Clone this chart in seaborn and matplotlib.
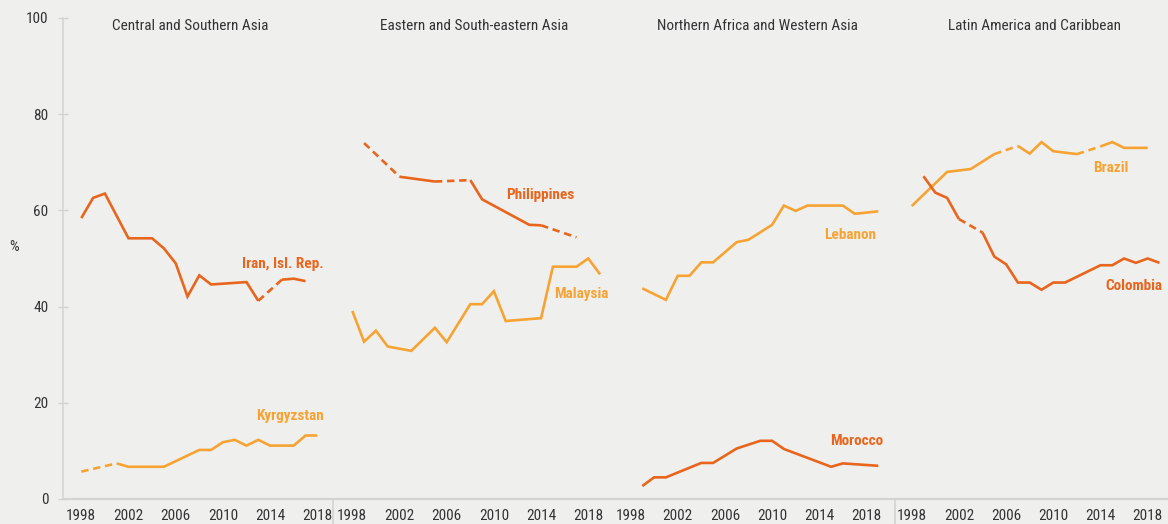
import matplotlib
matplotlib.use("Agg")
import matplotlib.pyplot as plt
from matplotlib import font_manager as fm
from matplotlib.lines import Line2D
import seaborn as sns
import pandas as pd

# ---------------- data ----------------
titles = ["Central and Southern Asia", "Eastern and South-eastern Asia",
          "Northern Africa and Western Asia", "Latin America and Caribbean"]

iran_years = [1998, 1999, 2000, 2002, 2004, 2005, 2006, 2007, 2008, 2009, 2012, 2013, 2015, 2016, 2017]
iran_vals = [58.4, 62.6, 63.5, 54.2, 54.2, 52.1, 49.0, 42.1, 46.5, 44.6, 45.1, 41.2, 45.6, 45.8, 45.3]
iran_dashed = [(2013, 2015)]

kyrg_years = [1998, 2001, 2002, 2005, 2008, 2009, 2010, 2011, 2012, 2013, 2014, 2016, 2017, 2018]
kyrg_vals = [5.7, 7.4, 6.7, 6.7, 10.2, 10.2, 11.8, 12.3, 11.1, 12.3, 11.1, 11.1, 13.2, 13.2]
kyrg_dashed = [(1998, 2001)]

phil_years = [1999, 2002, 2005, 2008, 2009, 2013, 2014, 2017]
phil_vals = [74.0, 67.0, 66.0, 66.3, 62.3, 57.0, 56.9, 54.4]
phil_dashed = [(1999, 2002), (2005, 2008), (2014, 2017)]

malay_years = [1998, 1999, 2000, 2001, 2003, 2005, 2006, 2008, 2009, 2010, 2011, 2014, 2015, 2017, 2018, 2019]
malay_vals = [39.1, 32.7, 35.0, 31.7, 30.8, 35.6, 32.6, 40.5, 40.5, 43.2, 37.0, 37.6, 48.3, 48.3, 50.0, 46.7]
malay_dashed = []

leb_years = [1999, 2001, 2002, 2003, 2004, 2005, 2007, 2008, 2010, 2011, 2012, 2013, 2016, 2017, 2019]
leb_vals = [43.8, 41.4, 46.4, 46.4, 49.2, 49.2, 53.4, 53.9, 57.0, 61.0, 59.9, 61.0, 61.0, 59.3, 59.8]
leb_dashed = []

mor_years = [1999, 2000, 2001, 2004, 2005, 2007, 2009, 2010, 2011, 2015, 2016, 2019]
mor_vals = [2.7, 4.5, 4.5, 7.5, 7.5, 10.5, 12.1, 12.1, 10.4, 6.7, 7.4, 6.9]
mor_dashed = []

bra_years = [1998, 2001, 2003, 2005, 2007, 2008, 2009, 2010, 2012, 2014, 2015, 2016, 2018]
bra_vals = [60.9, 68.0, 68.6, 71.7, 73.4, 71.8, 74.2, 72.3, 71.7, 73.3, 74.2, 73.0, 73.0]
bra_dashed = [(2005, 2007), (2012, 2014)]

col_years = [1999, 2000, 2001, 2002, 2004, 2005, 2006, 2007, 2008, 2009, 2010, 2011, 2014, 2015, 2016, 2017, 2018, 2019]
col_vals = [67.1, 63.7, 62.6, 58.2, 55.4, 50.4, 48.8, 45.0, 45.0, 43.5, 45.0, 45.0, 48.6, 48.6, 50.0, 49.1, 50.0, 49.1]
col_dashed = [(2002, 2004)]

x_ticks = [1998, 2002, 2006, 2010, 2014, 2018]
y_ticks = [0, 20, 40, 60, 80, 100]

# ---------------- style ----------------
DARK = "#e8651d"
LIGHT = "#f6a334"
BG = "#eff0ee"
GRID = "#d3d4d2"
TXT = "#333333"

sns.set_theme(style="white")

# pick the narrowest sans family available
flist = fm.fontManager.ttflist
names = {f.name for f in flist}
FAMILY, STRETCH, SCALE = "DejaVu Sans", "normal", 0.85
if "Liberation Sans Narrow" in names:
    FAMILY, STRETCH, SCALE = "Liberation Sans Narrow", "normal", 1.0
elif "Roboto Condensed" in names:
    FAMILY, STRETCH, SCALE = "Roboto Condensed", "normal", 1.0
elif any(f.name == "DejaVu Sans" and ("Condensed" in f.fname) for f in flist):
    FAMILY, STRETCH, SCALE = "DejaVu Sans", "condensed", 0.95
elif "Roboto" in names:
    FAMILY, STRETCH, SCALE = "Roboto", "condensed", 0.92
plt.rcParams["font.family"] = [FAMILY, "DejaVu Sans"]
plt.rcParams["font.stretch"] = STRETCH

FS = 11 * SCALE

W, H = 1168, 524
fig = plt.figure(figsize=(W / 100, H / 100), dpi=100)
fig.patch.set_facecolor(BG)

TOP, BOT = 18, 499
PXY = 11.8  # pixels per year
# (left px, right px, px of 1998)
panels = [(63, 333, 81.3), (333, 614, 352.3), (614, 895, 630.5), (895, 1168, 911.7)]
title_x = [190, 474, 757, 1034]

series = [
    [(iran_years, iran_vals, iran_dashed, DARK, "Iran, Isl. Rep.", 2015.1, 48.9),
     (kyrg_years, kyrg_vals, kyrg_dashed, LIGHT, "Kyrgyzstan", 2015.7, 17.3)],
    [(phil_years, phil_vals, phil_dashed, DARK, "Philippines", 2013.9, 63.1),
     (malay_years, malay_vals, malay_dashed, LIGHT, "Malaysia", 2017.45, 42.6)],
    [(leb_years, leb_vals, leb_dashed, LIGHT, "Lebanon", 2016.6, 54.9),
     (mor_years, mor_vals, mor_dashed, DARK, "Morocco", 2017.2, 12.1)],
    [(bra_years, bra_vals, bra_dashed, LIGHT, "Brazil", 2014.9, 68.9),
     (col_years, col_vals, col_dashed, DARK, "Colombia", 2016.8, 44.2)],
]

DASH = (0, (2.8, 1.8))


def draw_series(ax, years, vals, dashed, color):
    runs = []
    for i in range(len(years) - 1):
        style = "dashed" if (years[i], years[i + 1]) in dashed else "solid"
        if runs and runs[-1][0] == style:
            runs[-1][1].append(i + 1)
        else:
            runs.append([style, [i, i + 1]])
    for style, idx in runs:
        df = pd.DataFrame({"year": [years[j] for j in idx], "val": [vals[j] for j in idx]})
        ls = DASH if style == "dashed" else "-"
        sns.lineplot(data=df, x="year", y="val", ax=ax, color=color, lw=1.9,
                     linestyle=ls, sort=False, estimator=None, legend=False)
        ax.lines[-1].set_solid_capstyle("butt")
        ax.lines[-1].set_solid_joinstyle("miter")


for k, (l, r, x98) in enumerate(panels):
    ax = fig.add_axes([l / W, 1 - BOT / H, (r - l) / W, (BOT - TOP) / H])
    ax.set_facecolor("none")
    for yrs, vals, dashed, color, label, lx, ly in series[k]:
        draw_series(ax, yrs, vals, dashed, color)
        ax.text(lx, ly, label, color=color, fontsize=FS, fontweight="bold",
                ha="center", va="center", clip_on=False, zorder=5)
    ax.set_xlim(1998 - (x98 - l) / PXY, 1998 + (r - x98) / PXY)
    ax.set_ylim(0, 100)
    ax.set_xlabel("")
    ax.set_ylabel("")
    ax.set_xticks(x_ticks)
    ax.set_xticklabels([str(t) for t in x_ticks])
    ax.tick_params(axis="x", length=0, pad=7, labelsize=FS, labelcolor=TXT)
    for s in ["top", "right"]:
        ax.spines[s].set_visible(False)
    ax.spines["bottom"].set_color(GRID)
    ax.spines["bottom"].set_linewidth(1.5)
    if k == 0:
        ax.spines["left"].set_color(GRID)
        ax.spines["left"].set_linewidth(1.1)
        ax.set_yticks(y_ticks)
        ax.set_yticklabels([str(t) for t in y_ticks])
        ax.tick_params(axis="y", left=True, direction="inout", length=7, width=1,
                       color=GRID, pad=7, labelsize=FS, labelcolor=TXT)
    else:
        ax.spines["left"].set_visible(False)
        ax.set_yticks([])
    ax.grid(False)
    fig.text(title_x[k] / W, 1 - 26 / H, titles[k], ha="center", va="center",
             fontsize=FS, color=TXT)

fig.text(14 / W, 1 - 247 / H, "%", ha="center", va="center", fontsize=FS, color=TXT)

for xp in [333, 895]:
    fig.add_artist(Line2D([xp / W, xp / W], [0, 1 - BOT / H], color=GRID, lw=1.2))

fig.savefig("out.png", dpi=100, facecolor=BG)
